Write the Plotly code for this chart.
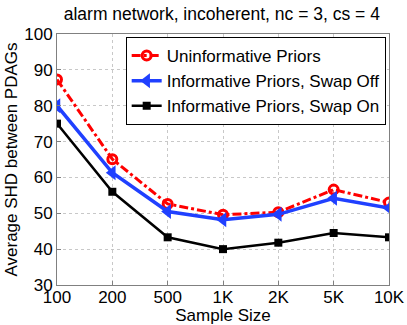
import plotly.graph_objects as go

# sample sizes on the x axis
sample_sizes = ["100", "200", "500", "1K", "2K", "5K", "10K"]

# average SHD between PDAGs
uninformative = [87.3, 65.1, 52.6, 49.6, 50.3, 56.6, 53.0]
swap_off = [80.0, 61.3, 50.5, 48.2, 49.7, 54.2, 51.5]
swap_on = [75.0, 56.0, 43.3, 40.0, 41.8, 44.5, 43.3]

y_ticks = [30, 40, 50, 60, 70, 80, 90, 100]

fig = go.Figure()

fig.add_trace(go.Scatter(
    x=sample_sizes, y=uninformative, name="Uninformative Priors",
    mode="lines+markers",
    line=dict(color="#ff0000", width=3, dash="dashdot"),
    marker=dict(symbol="circle-open", size=9, color="#ff0000", line=dict(width=3)),
))
fig.add_trace(go.Scatter(
    x=sample_sizes, y=swap_off, name="Informative Priors, Swap Off",
    mode="lines+markers",
    line=dict(color="#2040ff", width=3.5),
    marker=dict(symbol="triangle-left", size=13, color="#2040ff"),
))
fig.add_trace(go.Scatter(
    x=sample_sizes, y=swap_on, name="Informative Priors, Swap On",
    mode="lines+markers",
    line=dict(color="#000000", width=2.5),
    marker=dict(symbol="square", size=8, color="#000000"),
))

font = "Liberation Sans, Arial, Helvetica, sans-serif"

fig.update_layout(
    width=407, height=325,
    margin=dict(l=57, r=18, t=34, b=40),
    paper_bgcolor="white", plot_bgcolor="white",
    font=dict(family=font, size=17, color="black"),
    title=dict(text="alarm network, incoherent, nc = 3, cs = 4",
               x=0.545, xanchor="center", y=0.958, yanchor="middle",
               font=dict(size=17.5)),
    legend=dict(x=0.99, xanchor="right", y=0.988, yanchor="top",
                bgcolor="white", bordercolor="black", borderwidth=1,
                font=dict(size=17), tracegroupgap=0, itemwidth=30),
)

fig.update_xaxes(
    type="category", range=[0, 6], automargin=False,
    title=dict(text="Sample Size", standoff=2, font=dict(size=17)),
    showgrid=True, gridcolor="#c8c8c8", griddash="dot", gridwidth=1,
    showline=True, linecolor="#808080", mirror=True,
    ticks="inside", ticklen=4, tickcolor="#808080",
    tickfont=dict(size=17), ticklabelstandoff=-3,
)
fig.update_yaxes(
    range=[30, 100], tickvals=y_ticks, automargin=False,
    title=dict(text="Average SHD between PDAGs", standoff=2, font=dict(size=17)),
    showgrid=True, gridcolor="#c8c8c8", griddash="dot", gridwidth=1,
    showline=True, linecolor="#808080", mirror=True,
    ticks="inside", ticklen=4, tickcolor="#808080",
    tickfont=dict(size=17), zeroline=False,
)

# drop the browser's default page margin so the figure sits at the corner
fig.write_html("out.html", config={"displayModeBar": False},
               post_script="document.body.style.margin = '0';")
